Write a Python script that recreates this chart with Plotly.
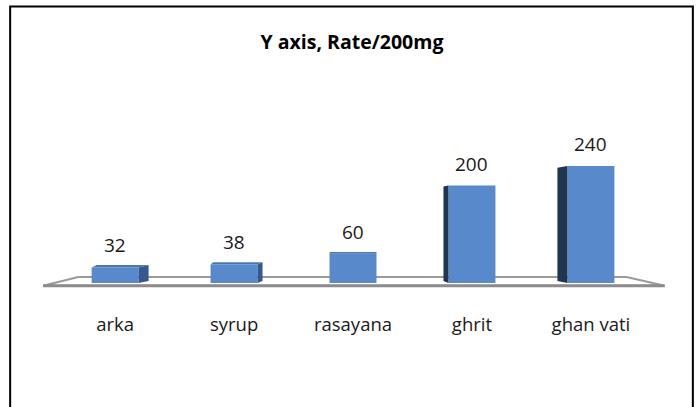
import plotly.graph_objects as go

categories = ["arka", "syrup", "rasayana", "ghrit", "ghan vati"]
values = [32, 38, 60, 200, 240]
title_text = "Y axis, Rate/200mg"

FONT = "'Open Sans', Calibri, Carlito, sans-serif"
FRONT = "#5889CA"
SIDE_RIGHT = "#34598C"
SIDE_LEFT = "#1F3550"
TOP = "#4A78B5"

n = len(categories)
idx = list(range(n))
bar_w = 0.395
mid = (n - 1) / 2.0

fig = go.Figure()

# pseudo-3D side / top faces derived from each bar's position and value
for i, v in zip(idx, values):
    dx = (mid - i) * 0.042          # horizontal depth offset
    shift_top = 6 - 0.04 * v        # vertical depth offset at top
    shift_bot = 4
    xl, xr = i - bar_w / 2, i + bar_w / 2
    if dx > 0.001:
        sx = [xr, xr + dx, xr + dx, xr, xr]
        sy = [0, shift_bot, v + shift_top, v, 0]
        col = SIDE_RIGHT
    elif dx < -0.001:
        sx = [xl, xl + dx, xl + dx, xl, xl]
        sy = [0, shift_bot, v + shift_top, v, 0]
        col = SIDE_LEFT
    else:
        sx, sy, col = None, None, None
    if shift_top > 0.5:
        fig.add_trace(go.Scatter(
            x=[xl, xl + dx * 0.5, xr + dx, xr, xl],
            y=[v, v + shift_top, v + shift_top, v, v],
            fill="toself", fillcolor=TOP, mode="lines",
            line=dict(width=0, color=TOP), hoverinfo="skip", showlegend=False))
    if sx is not None:
        fig.add_trace(go.Scatter(
            x=sx, y=sy, fill="toself", fillcolor=col, mode="lines",
            line=dict(width=0, color=col), hoverinfo="skip", showlegend=False))

fig.add_trace(go.Bar(
    x=idx, y=values, width=bar_w, marker=dict(color=FRONT, line=dict(width=0)),
    hoverinfo="x+y", showlegend=False))

for i, v in zip(idx, values):
    fig.add_annotation(x=i, y=v, text=str(v), showarrow=False, yshift=22,
                       font=dict(family=FONT, size=19, color="#1a1a1a"))

# floor plane
back_y, front_y = 12.3, -5.5
floor_path = (f"M {-0.31} {back_y} L {n - 1 + 0.30} {back_y} "
              f"L {n - 1 + 0.62} {front_y} L {-0.605} {front_y} Z")
fig.add_shape(type="path", path=floor_path, xref="x", yref="y",
              fillcolor="white", line=dict(color="#9a9a9a", width=2), layer="below")
fig.add_shape(type="line", x0=-0.605, x1=n - 1 + 0.62, y0=front_y, y1=front_y,
              xref="x", yref="y", line=dict(color="#8c8c8c", width=3), layer="below")

# chart frame (pixel layout)
PAD = 0.85
STEP = 119.0
L = 115 - PAD * STEP
W = (n - 1 + 2 * PAD) * STEP
T, H = 60, 245
def px2paper_x(p):
    return (p - L) / W
def px2paper_y(p):
    return (T + H - p) / H
fig.add_shape(type="rect", xref="paper", yref="paper",
              x0=px2paper_x(10), x1=px2paper_x(693),
              y0=px2paper_y(430), y1=px2paper_y(6.5),
              line=dict(color="black", width=2), fillcolor="rgba(0,0,0,0)")

fig.update_layout(
    width=697, height=407,
    margin=dict(l=L, r=max(0, 697 - L - W), t=T, b=407 - T - H),
    paper_bgcolor="white", plot_bgcolor="white",
    title=dict(text=f"<b>{title_text}</b>", x=px2paper_x(352), xref="paper",
               xanchor="center", y=1 - 42 / 407, yanchor="middle",
               font=dict(family=FONT, size=19.5, color="black")),
    xaxis=dict(range=[-PAD, n - 1 + PAD], tickmode="array", tickvals=idx,
               ticktext=categories, showgrid=False, zeroline=False, showline=False,
               ticks="", ticklabelstandoff=6,
               tickfont=dict(family=FONT, size=18.5, color="#1a1a1a"), fixedrange=True),
    yaxis=dict(range=[-22 / 0.4875, (H - 22) / 0.4875], visible=False, fixedrange=True),
    bargap=0.6,
)

fig.write_html("out.html", post_script="document.body.style.margin='0px';",
               config={"displayModeBar": False})
